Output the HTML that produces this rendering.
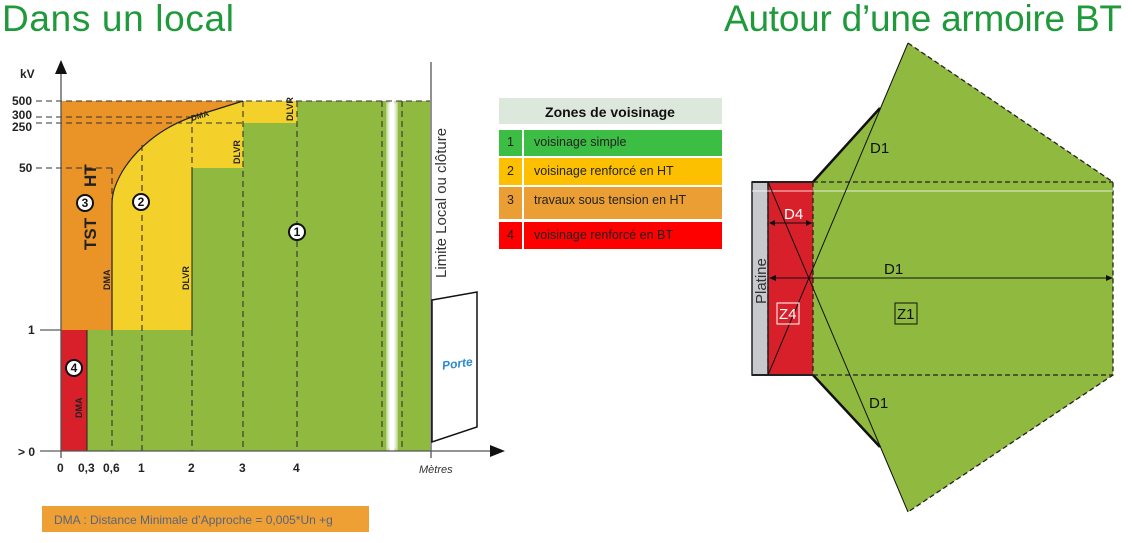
<!DOCTYPE html>
<html><head><meta charset="utf-8"><style>
body{margin:0;width:1132px;height:538px;background:#fff;overflow:hidden;font-family:"Liberation Sans",sans-serif}
</style></head><body>
<svg width="1132" height="538" viewBox="0 0 1132 538" xmlns="http://www.w3.org/2000/svg" font-family="Liberation Sans, sans-serif">
<defs><filter id="bl"><feGaussianBlur stdDeviation="2"/></filter></defs>
<text x="2" y="31" font-size="37" fill="#1f9a3a" textLength="232">Dans un local</text>
<text x="724" y="31" font-size="37" fill="#1f9a3a" textLength="398">Autour d’une armoire BT</text>
<!-- zones -->
<rect x="61" y="101" width="369" height="350" fill="#8fb93f"/>
<rect x="61" y="101" width="131" height="229" fill="#f4d02a"/>
<rect x="192" y="101" width="51" height="67" fill="#f4d02a"/>
<rect x="243" y="101" width="54" height="22" fill="#f4d02a"/>
<path d="M61 101 L243 101 L192 117 C160 128 135 150 122 172 C114 186 112 195 112 205 L112 330 L61 330 Z" fill="#ea9327"/>
<path d="M243 101 L192 117 C160 128 135 150 122 172 C114 186 112 195 112 205 L112 330" fill="none" stroke="#222" stroke-width="1.2"/>
<rect x="61" y="330" width="26" height="121" fill="#d8202a"/>
<line x1="87" y1="330" x2="87" y2="451" stroke="#222" stroke-width="1"/>
<line x1="192" y1="168" x2="192" y2="330" stroke="#222" stroke-width="1"/>
<rect x="387" y="101" width="10" height="350" fill="#fff" filter="url(#bl)"/>
<rect x="390" y="101" width="4" height="350" fill="#fff"/>
<g stroke="#333" stroke-width="1.1" stroke-dasharray="6,4" fill="none">
<line x1="36" y1="101" x2="430" y2="101"/>
<line x1="36" y1="117" x2="192" y2="117"/>
<line x1="36" y1="123" x2="243" y2="123"/>
<line x1="36" y1="168" x2="112" y2="168"/>
<line x1="112" y1="168" x2="112" y2="205"/>
<line x1="112" y1="330" x2="112" y2="451"/>
<line x1="142" y1="145" x2="142" y2="451"/>
<line x1="192" y1="117" x2="192" y2="168"/>
<line x1="192" y1="330" x2="192" y2="451"/>
<line x1="243" y1="101" x2="243" y2="451"/>
<line x1="297" y1="101" x2="297" y2="451"/>
<line x1="382" y1="101" x2="382" y2="451"/>
<line x1="402" y1="101" x2="402" y2="451"/>
</g>
<g stroke="#333" stroke-width="1"><line x1="40" y1="330" x2="61" y2="330"/><line x1="40" y1="451" x2="61" y2="451"/></g>
<!-- axes -->
<line x1="61" y1="70" x2="61" y2="458" stroke="#555" stroke-width="1.3"/>
<polygon points="61,60 55,74 67,74" fill="#111"/>
<line x1="61" y1="451" x2="495" y2="451" stroke="#555" stroke-width="1.3"/>
<polygon points="505,451 490,445 490,457" fill="#111"/>
<line x1="431" y1="62" x2="431" y2="458" stroke="#555" stroke-width="1.3"/>
<polygon points="432,300 477,292 477,427 432,442" fill="#fff" stroke="#111" stroke-width="1.5"/>
<text x="442" y="368" font-size="12" font-weight="bold" font-style="italic" fill="#2a8ad0" transform="rotate(-8 455 364)">Porte</text>
<g font-size="12" font-weight="bold" fill="#222">
<text x="20" y="78">kV</text>
<text x="12" y="105">500</text><text x="12" y="119">300</text><text x="12" y="131">250</text>
<text x="19" y="172">50</text><text x="28" y="334">1</text><text x="18" y="456">&gt; 0</text>
<text x="57" y="472">0</text><text x="78" y="472">0,3</text><text x="103" y="472">0,6</text>
<text x="138" y="472">1</text><text x="188" y="472">2</text><text x="239" y="472">3</text><text x="293" y="472">4</text>
</g>
<text x="419" y="473" font-size="11" font-style="italic" fill="#333">Mètres</text>
<text transform="translate(446 278) rotate(-90)" font-size="15" fill="#333">Limite Local ou clôture</text>
<g font-size="9" font-weight="bold" fill="#222">
<text transform="translate(110 290) rotate(-90)">DMA</text>
<text transform="translate(189 290) rotate(-90)">DLVR</text>
<text transform="translate(240 164) rotate(-90)">DLVR</text>
<text transform="translate(293 121) rotate(-90)">DLVR</text>
<text transform="translate(82 418) rotate(-90)">DMA</text>
<text transform="translate(192 121) rotate(-17)" font-size="8">DMA</text>
</g>
<text transform="translate(96 250) rotate(-90)" font-size="17" font-weight="bold" fill="#222">TST</text>
<text transform="translate(96 187) rotate(-90)" font-size="17" font-weight="bold" fill="#222">HT</text>
<g font-size="12" font-weight="bold" fill="#111" text-anchor="middle" stroke-width="2">
<circle cx="85" cy="203" r="8" fill="#fff" stroke="#111"/><text x="85" y="207">3</text>
<circle cx="141" cy="202" r="8" fill="#fff" stroke="#111"/><text x="141" y="206">2</text>
<circle cx="297" cy="232" r="8" fill="#fff" stroke="#111"/><text x="297" y="236">1</text>
<circle cx="74" cy="368" r="8" fill="#fff" stroke="#111"/><text x="74" y="372">4</text>
</g>
<rect x="42" y="506" width="327" height="26" fill="#eea035"/>
<text x="54" y="524" font-size="12" fill="#5a6478">DMA : Distance Minimale d’Approche = 0,005*Un +g</text>
<!-- table -->
<rect x="499" y="98" width="223" height="26" fill="#dde8dd"/>
<text x="610" y="117" font-size="14" font-weight="bold" text-anchor="middle" fill="#111">Zones de voisinage</text>
<g font-size="12.5" fill="#222">
<rect x="499" y="130" width="23" height="26" fill="#3cbd43"/><rect x="524" y="130" width="198" height="26" fill="#3cbd43"/>
<text x="507" y="146">1</text><text x="534" y="146">voisinage simple</text>
<rect x="499" y="158" width="23" height="27" fill="#fcc000"/><rect x="524" y="158" width="198" height="27" fill="#fcc000"/>
<text x="507" y="175">2</text><text x="534" y="175">voisinage renforcé en HT</text>
<rect x="499" y="187" width="23" height="32" fill="#eb9e34"/><rect x="524" y="187" width="198" height="32" fill="#eb9e34"/>
<text x="507" y="204">3</text><text x="534" y="204">travaux sous tension en HT</text>
<rect x="499" y="222" width="23" height="27" fill="#fe0000"/><rect x="524" y="222" width="198" height="27" fill="#fe0000"/>
<text x="507" y="239">4</text><text x="534" y="239">voisinage renforcé en BT</text>
</g>
<!-- right diagram -->
<polygon points="908,43 880,108 813,182 768,182 768,375 813,375 880,447 908,512 1113,375 1113,182" fill="#8fb93f"/>
<rect x="768" y="182" width="45" height="193" fill="#d8202a"/>
<rect x="752" y="182" width="16" height="193" fill="#c8c9cc" stroke="#222" stroke-width="1.5"/>
<line x1="752" y1="182" x2="813" y2="182" stroke="#222" stroke-width="2"/>
<line x1="752" y1="375" x2="813" y2="375" stroke="#222" stroke-width="2"/>
<line x1="813" y1="182" x2="880" y2="108" stroke="#111" stroke-width="2.5"/>
<line x1="813" y1="375" x2="880" y2="447" stroke="#111" stroke-width="2.5"/>
<g stroke="#222" stroke-width="1.3" stroke-dasharray="5,3" fill="none">
<polyline points="908,43 1113,182 1113,375 908,512"/>
<line x1="813" y1="182" x2="1113" y2="182"/>
<line x1="813" y1="375" x2="1113" y2="375"/>
<line x1="813" y1="182" x2="813" y2="375"/>
<line x1="768" y1="182" x2="768" y2="375"/>
</g>
<line x1="752" y1="191" x2="1113" y2="191" stroke="#fff" stroke-width="1" opacity="0.8"/>
<g stroke="#111" stroke-width="1">
<line x1="768" y1="182" x2="908" y2="512"/>
<line x1="768" y1="375" x2="908" y2="43"/>
<line x1="770" y1="278" x2="1112" y2="278"/>
<line x1="770" y1="223" x2="812" y2="223"/>
</g>
<polygon points="769,278 776,275 776,281" fill="#111"/><polygon points="1113,278 1106,275 1106,281" fill="#111"/>
<polygon points="769,223 775,220 775,226" fill="#111"/><polygon points="812,223 806,220 806,226" fill="#111"/>
<g font-size="15" fill="#111">
<text x="870" y="153">D1</text><text x="884" y="274">D1</text><text x="869" y="408">D1</text>
<text x="784" y="219" fill="#fff">D4</text>
<text x="779" y="319" fill="#fff">Z4</text>
<rect x="777" y="303" width="22" height="21" fill="none" stroke="#fff"/>
<text x="897" y="319">Z1</text>
<rect x="895" y="303" width="22" height="21" fill="none" stroke="#111"/>
</g>
<text transform="translate(766 304) rotate(-90)" font-size="15" fill="#333">Platine</text>
</svg>
</body></html>
